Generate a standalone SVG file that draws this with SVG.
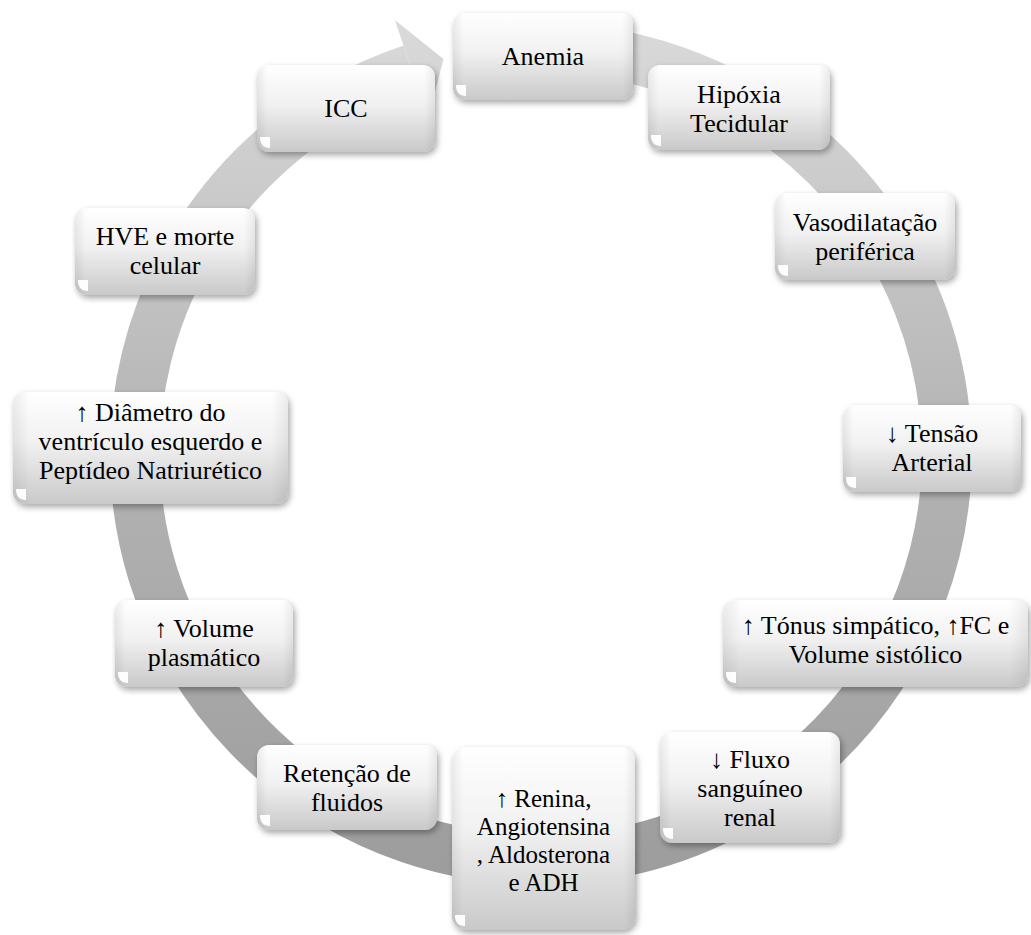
<svg xmlns="http://www.w3.org/2000/svg" width="1031" height="935" viewBox="0 0 1031 935" font-family="Liberation Serif, serif">
<style>
.box{fill:url(#boxGrad);filter:url(#shadow)}
.side{fill:url(#sideGrad)}
.t{font-family:'Liberation Serif','Times New Roman',serif;font-size:26px;fill:#000;text-anchor:middle}
.s{font-size:25px}
.blob{fill:#fff;opacity:0.95}
</style>
<defs>
<linearGradient id="boxGrad" x1="0" y1="0" x2="0" y2="1">
<stop offset="0" stop-color="#ffffff"/>
<stop offset="0.45" stop-color="#f1f1f1"/>
<stop offset="1" stop-color="#c9c9c9"/>
</linearGradient>
<linearGradient id="sideGrad" x1="0" y1="0" x2="1" y2="0">
<stop offset="0" stop-color="#000" stop-opacity="0.07"/>
<stop offset="0.06" stop-color="#000" stop-opacity="0"/>
<stop offset="0.94" stop-color="#000" stop-opacity="0"/>
<stop offset="1" stop-color="#000" stop-opacity="0.07"/>
</linearGradient>
<linearGradient id="ringGrad" gradientUnits="userSpaceOnUse" x1="0" y1="20" x2="0" y2="890">
<stop offset="0" stop-color="#dadada"/>
<stop offset="0.5" stop-color="#b3b3b3"/>
<stop offset="1" stop-color="#9c9c9c"/>
</linearGradient>
<filter id="shadow" x="-10%" y="-10%" width="125%" height="130%">
<feDropShadow dx="2" dy="3" stdDeviation="3" flood-color="#000" flood-opacity="0.35"/>
</filter>
<path id="blob" d="M3,-15 H13 V-4 Q3,-4 3,-15 Z"/>
</defs>

<g id="connectors">
<path d="M505.6,49.6 A406,406 0 1 1 411.5,69.2" fill="none" stroke="url(#ringGrad)" stroke-width="50"/>
<path d="M394.9,19.9 L443.5,59 L428.1,118.5 Z" fill="url(#ringGrad)"/>
</g>

<g id="node-anemia">
<rect class="box" x="453" y="13" width="180" height="87" rx="12"/>
<rect class="side" x="453" y="13" width="180" height="87" rx="12"/>
<use href="#blob" x="453" y="100" class="blob"/>
<text class="t" x="543" y="65">Anemia</text>
</g>

<g id="node-hipoxia">
<rect class="box" x="648" y="65" width="182" height="85" rx="12"/>
<rect class="side" x="648" y="65" width="182" height="85" rx="12"/>
<use href="#blob" x="648" y="150" class="blob"/>
<text class="t" x="739" y="103">Hipóxia</text>
<text class="t" x="739" y="132">Tecidular</text>
</g>

<g id="node-vasodilatacao">
<rect class="box" x="775" y="193" width="180" height="87" rx="12"/>
<rect class="side" x="775" y="193" width="180" height="87" rx="12"/>
<use href="#blob" x="775" y="280" class="blob"/>
<text class="t" x="865" y="230.5">Vasodilatação</text>
<text class="t" x="865" y="259.5">periférica</text>
</g>

<g id="node-tensao">
<rect class="box" x="843" y="405" width="178" height="87" rx="12"/>
<rect class="side" x="843" y="405" width="178" height="87" rx="12"/>
<use href="#blob" x="843" y="492" class="blob"/>
<text class="t" x="932" y="442">↓ Tensão</text>
<text class="t" x="932" y="471">Arterial</text>
</g>

<g id="node-tonus">
<rect class="box" x="723" y="600" width="305" height="87" rx="12"/>
<rect class="side" x="723" y="600" width="305" height="87" rx="12"/>
<use href="#blob" x="723" y="687" class="blob"/>
<text class="t" x="875.5" y="634">↑ Tónus simpático, ↑FC e</text>
<text class="t" x="875.5" y="663">Volume sistólico</text>
</g>

<g id="node-fluxo">
<rect class="box" x="660" y="732" width="180" height="111" rx="12"/>
<rect class="side" x="660" y="732" width="180" height="111" rx="12"/>
<use href="#blob" x="660" y="843" class="blob"/>
<text class="t" x="750" y="768">↓ Fluxo</text>
<text class="t" x="750" y="797">sanguíneo</text>
<text class="t" x="750" y="826">renal</text>
</g>

<g id="node-renina">
<rect class="box" x="452" y="747" width="183" height="183" rx="14"/>
<rect class="side" x="452" y="747" width="183" height="183" rx="14"/>
<use href="#blob" x="452" y="930" class="blob"/>
<text class="t s" x="543.5" y="807">↑ Renina,</text>
<text class="t s" x="543.5" y="835">Angiotensina</text>
<text class="t s" x="543.5" y="863">, Aldosterona</text>
<text class="t s" x="543.5" y="891">e ADH</text>
</g>

<g id="node-retencao">
<rect class="box" x="257" y="745" width="180" height="85" rx="12"/>
<rect class="side" x="257" y="745" width="180" height="85" rx="12"/>
<use href="#blob" x="257" y="830" class="blob"/>
<text class="t" x="347" y="781.5">Retenção de</text>
<text class="t" x="347" y="810.5">fluidos</text>
</g>

<g id="node-volume">
<rect class="box" x="115" y="600" width="178" height="87" rx="12"/>
<rect class="side" x="115" y="600" width="178" height="87" rx="12"/>
<use href="#blob" x="115" y="687" class="blob"/>
<text class="t" x="204" y="637">↑ Volume</text>
<text class="t" x="204" y="666">plasmático</text>
</g>

<g id="node-diametro">
<rect class="box" x="13" y="392" width="275" height="112" rx="12"/>
<rect class="side" x="13" y="392" width="275" height="112" rx="12"/>
<use href="#blob" x="13" y="504" class="blob"/>
<text class="t" x="150.5" y="420.7">↑ Diâmetro do</text>
<text class="t" x="150.5" y="449.7">ventrículo esquerdo e</text>
<text class="t" x="150.5" y="478.7">Peptídeo Natriurético</text>
</g>

<g id="node-hve">
<rect class="box" x="75" y="208" width="180" height="87" rx="12"/>
<rect class="side" x="75" y="208" width="180" height="87" rx="12"/>
<use href="#blob" x="75" y="295" class="blob"/>
<text class="t" x="165" y="245">HVE e morte</text>
<text class="t" x="165" y="274">celular</text>
</g>

<g id="node-icc">
<rect class="box" x="257" y="65" width="178" height="87" rx="12"/>
<rect class="side" x="257" y="65" width="178" height="87" rx="12"/>
<use href="#blob" x="257" y="152" class="blob"/>
<text class="t" x="346" y="117">ICC</text>
</g>
</svg>
